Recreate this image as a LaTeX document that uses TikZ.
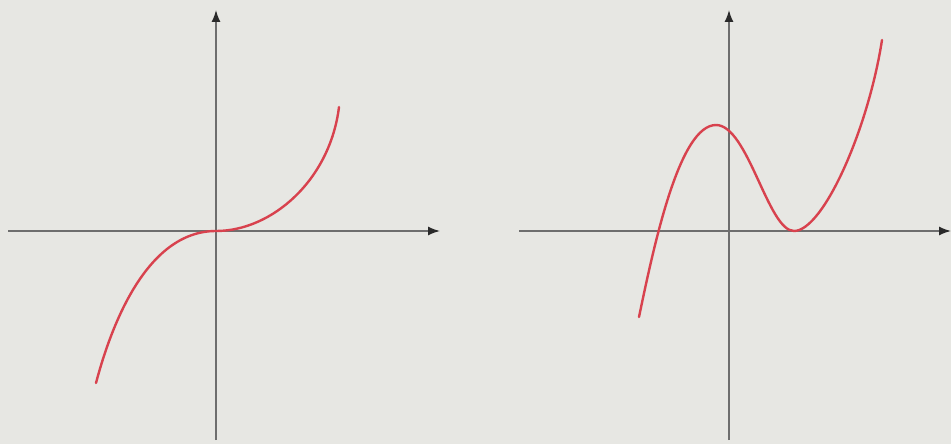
\documentclass[tikz,border=0pt]{standalone}
\usetikzlibrary{arrows.meta}
\definecolor{bgc}{HTML}{E7E7E3}
\definecolor{axc}{HTML}{6E6E6E}
\definecolor{tipc}{HTML}{2A2A2A}
\definecolor{curvec}{HTML}{D8424E}
\tikzset{
  axis/.style={draw=axc, line width=1.5pt, -{Latex[length=12pt,width=9pt,color=tipc]}},
  curve/.style={draw=curvec, line width=2.4pt, line cap=round},
}
\begin{document}
\begin{tikzpicture}[x=1pt,y=-1pt]
\fill[bgc] (0,0) rectangle (951,444);
\useasboundingbox (0,0) rectangle (951,444);
% left graph
\coordinate (lxs) at (8,231);
\coordinate (lxe) at (440,231);
\coordinate (lys) at (216,440);
\coordinate (lye) at (216,10);
\coordinate (lo) at (216,231);
\coordinate (la) at (96,383);
\coordinate (lb) at (339,107);
\draw[axis] (lxs) -- (lxe);
\draw[axis] (lys) -- (lye);
\draw[curve] (la) .. controls (110,330) and (145,231) .. (lo)
                  .. controls (272,231) and (330,180) .. (lb);
% right graph
\coordinate (rxs) at (519,231);
\coordinate (rxe) at (951,231);
\coordinate (rys) at (729,440);
\coordinate (rye) at (729,10);
\coordinate (ra) at (639,317);
\coordinate (rmax) at (716,125);
\coordinate (rmin) at (794,231);
\coordinate (rb) at (882,40);
\draw[axis] (rxs) -- (rxe);
\draw[axis] (rys) -- (rye);
\draw[curve] (ra) .. controls (655,240) and (680,125) .. (rmax)
                  .. controls (748,125) and (768,231) .. (rmin)
                  .. controls (823,231) and (868,130) .. (rb);
\end{tikzpicture}
\end{document}
